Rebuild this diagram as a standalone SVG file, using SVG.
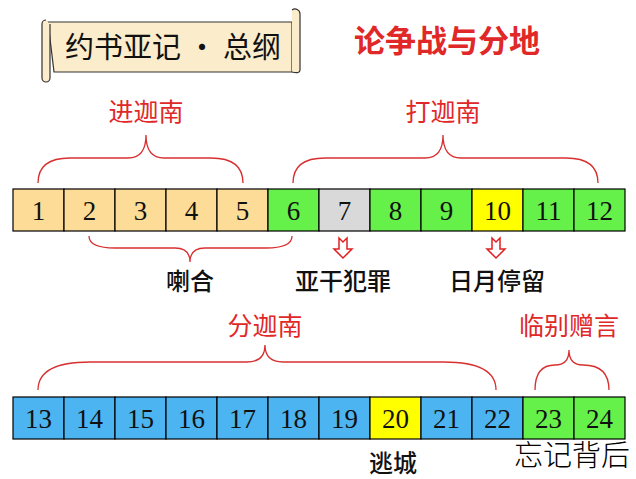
<svg xmlns="http://www.w3.org/2000/svg" width="636" height="479" viewBox="0 0 636 479">
<style>
.c{stroke:#000;stroke-width:1.2}
.o{fill:#fcdc96}.g{fill:#66f04a}.y{fill:#ffff00}.s{fill:#d9d9d9}.b{fill:#4db4f2}
.n{font-family:"Liberation Serif",serif;font-size:27px;text-anchor:middle;fill:#111}
.r{font-family:"Noto Sans CJK SC",sans-serif;font-size:25px;fill:#e02828;text-anchor:middle}
.k{font-family:"Noto Sans CJK SC",sans-serif;font-size:24px;fill:#111;text-anchor:middle;font-weight:500}
.br{fill:none;stroke:#d83030;stroke-width:1.3}
.ar{fill:#fff;stroke:#e02020;stroke-width:1.5}
</style>
<rect width="636" height="479" fill="#fff"/>
<g id="title">
<path d="M48 22 H292 V72 H54 Z" fill="#fbeccb" stroke="#333" stroke-width="1.2"/>
<path d="M292 10 a5 5 0 0 1 8 4 V70 q0 4 -8 2" fill="#fbeccb" stroke="#333" stroke-width="1.2"/>
<path d="M46 20 a4 4 0 0 0 -4 4 V78 a4 4 0 0 0 8 0 V24" fill="#fbeccb" stroke="#333" stroke-width="1.2"/>
<text x="173" y="58" font-family="Noto Sans CJK SC,sans-serif" font-size="29" text-anchor="middle" fill="#111">约书亚记 • 总纲</text>
</g>
<text x="447" y="52" font-family="Noto Sans CJK SC,sans-serif" font-size="31" font-weight="bold" text-anchor="middle" fill="#e02828">论争战与分地</text>
<g id="row1">
<rect class="c o" x="13" y="189" width="51" height="42"/><text class="n" x="38.5" y="220">1</text>
<rect class="c o" x="64" y="189" width="51" height="42"/><text class="n" x="89.5" y="220">2</text>
<rect class="c o" x="115" y="189" width="51" height="42"/><text class="n" x="140.5" y="220">3</text>
<rect class="c o" x="166" y="189" width="51" height="42"/><text class="n" x="191.5" y="220">4</text>
<rect class="c o" x="217" y="189" width="51" height="42"/><text class="n" x="242.5" y="220">5</text>
<rect class="c g" x="268" y="189" width="51" height="42"/><text class="n" x="293.5" y="220">6</text>
<rect class="c s" x="319" y="189" width="51" height="42"/><text class="n" x="344.5" y="220">7</text>
<rect class="c g" x="370" y="189" width="51" height="42"/><text class="n" x="395.5" y="220">8</text>
<rect class="c g" x="421" y="189" width="51" height="42"/><text class="n" x="446.5" y="220">9</text>
<rect class="c y" x="472" y="189" width="51" height="42"/><text class="n" x="497.5" y="220">10</text>
<rect class="c g" x="523" y="189" width="51" height="42"/><text class="n" x="548.5" y="220">11</text>
<rect class="c g" x="574" y="189" width="51" height="42"/><text class="n" x="599.5" y="220">12</text>
</g>
<g id="row2">
<rect class="c b" x="13" y="397" width="51" height="42"/><text class="n" x="38.5" y="428">13</text>
<rect class="c b" x="64" y="397" width="51" height="42"/><text class="n" x="89.5" y="428">14</text>
<rect class="c b" x="115" y="397" width="51" height="42"/><text class="n" x="140.5" y="428">15</text>
<rect class="c b" x="166" y="397" width="51" height="42"/><text class="n" x="191.5" y="428">16</text>
<rect class="c b" x="217" y="397" width="51" height="42"/><text class="n" x="242.5" y="428">17</text>
<rect class="c b" x="268" y="397" width="51" height="42"/><text class="n" x="293.5" y="428">18</text>
<rect class="c b" x="319" y="397" width="51" height="42"/><text class="n" x="344.5" y="428">19</text>
<rect class="c y" x="370" y="397" width="51" height="42"/><text class="n" x="395.5" y="428">20</text>
<rect class="c b" x="421" y="397" width="51" height="42"/><text class="n" x="446.5" y="428">21</text>
<rect class="c b" x="472" y="397" width="51" height="42"/><text class="n" x="497.5" y="428">22</text>
<rect class="c g" x="523" y="397" width="51" height="42"/><text class="n" x="548.5" y="428">23</text>
<rect class="c g" x="574" y="397" width="51" height="42"/><text class="n" x="599.5" y="428">24</text>
</g>
<g id="connectors">
<path class="br" d="M38 183 Q38 158 70 158 L128 158 Q146 158 146 135 Q146 158 164 158 L211 158 Q243 158 243 183"/>
<path class="br" d="M293 183 Q293 158 325 158 L425 158 Q443 158 443 135 Q443 158 461 158 L566 158 Q598 158 598 183"/>
<path class="br" d="M89 236 Q89 248 115 248 L175 248 Q190 248 190 262 Q190 248 205 248 L266 248 Q292 248 292 236"/>
<path class="br" d="M38 390 Q38 362 90 362 L247 362 Q265 362 265 345 Q265 362 283 362 L444 362 Q496 362 496 390"/>
<path class="br" d="M535 390 Q535 365 555 365 Q569 365 569 350 Q569 365 583 365 Q609 365 609 390"/>
<path class="ar" d="M339 238 L343 242 L347 238 V249 H352 L343 258 L334 249 H339 Z"/>
<path class="ar" d="M492 238 L496 242 L500 238 V249 H505 L496 258 L487 249 H492 Z"/>
</g>
<text class="r" x="146" y="121">进迦南</text>
<text class="r" x="443" y="121">打迦南</text>
<text class="k" x="190" y="290">喇合</text>
<text class="k" x="343" y="290">亚干犯罪</text>
<text class="k" x="497" y="290">日月停留</text>
<text class="r" x="265" y="335">分迦南</text>
<text class="r" x="569" y="335">临别赠言</text>
<text class="k" x="393" y="472">逃城</text>
<text x="572" y="466" font-family="Noto Sans CJK SC,sans-serif" font-size="29" font-weight="300" text-anchor="middle" fill="#000">忘记背后</text>
</svg>
